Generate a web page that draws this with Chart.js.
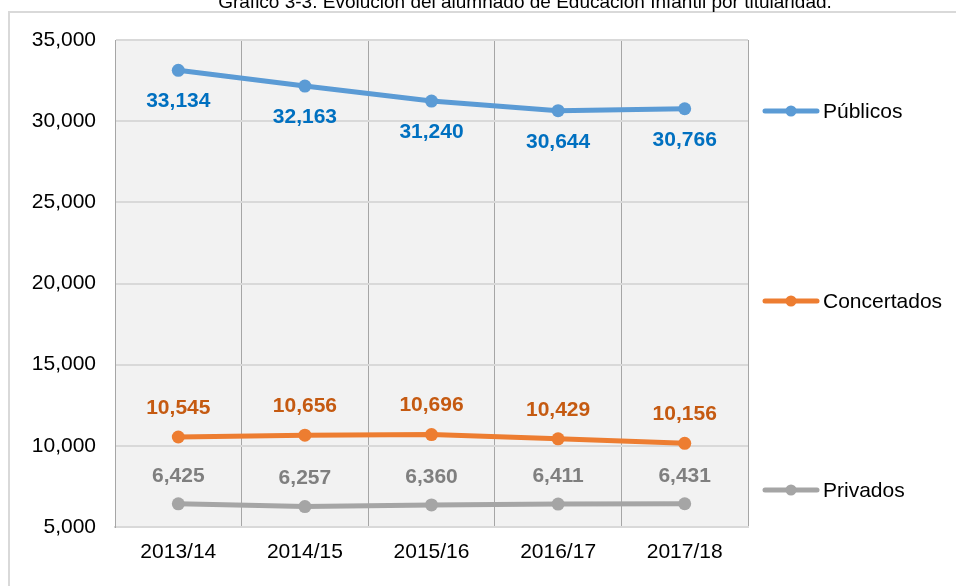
<!DOCTYPE html>
<html>
<head>
<meta charset="utf-8">
<script src="https://cdn.jsdelivr.net/npm/chart.js@4/dist/chart.umd.min.js"></script>
<style>
  html, body { margin: 0; padding: 0; background: #fff; }
  #wrap { width: 956px; height: 586px; position: relative; }
</style>
</head>
<body>
<div id="wrap"><canvas id="grafico"></canvas></div>
<script>
// Datos del gráfico
const cursos = ['2013/14', '2014/15', '2015/16', '2016/17', '2017/18'];
const publicos = [33134, 32163, 31240, 30644, 30766];
const concertados = [10545, 10656, 10696, 10429, 10156];
const privados = [6425, 6257, 6360, 6411, 6431];
const titulo = 'Gráfico 3-3. Evolución del alumnado de Educación Infantil por titularidad.';

const fuente = '"Liberation Sans", Arial, sans-serif';
const fmt = v => v.toLocaleString('en-US');

// Plugin: fondo, marco, título, etiquetas y leyenda a la derecha
const extras = {
    id: 'extras',
    beforeDraw(chart) {
        const { ctx, chartArea: a } = chart;
        ctx.save();
        ctx.fillStyle = '#f2f2f2';
        ctx.fillRect(a.left, a.top, a.right - a.left, a.bottom - a.top);
        ctx.strokeStyle = '#d9d9d9';
        ctx.lineWidth = 2;
        ctx.beginPath();
        ctx.moveTo(9, 586);
        ctx.lineTo(9, 12);
        ctx.lineTo(956, 12);
        ctx.stroke();
        ctx.fillStyle = '#000';
        ctx.font = '19px ' + fuente;
        ctx.textAlign = 'center';
        ctx.textBaseline = 'alphabetic';
        ctx.fillText(titulo, 525, 8);
        ctx.restore();
    },
    afterDatasetsDraw(chart) {
        const { ctx } = chart;
        ctx.save();
        chart.data.datasets.forEach((ds, i) => {
            const meta = chart.getDatasetMeta(i);
            ctx.font = 'bold 21px ' + fuente;
            ctx.textAlign = 'center';
            ctx.textBaseline = 'middle';
            meta.data.forEach((pt, j) => {
                ctx.fillStyle = ds.colorEtiqueta;
                ctx.fillText(fmt(ds.data[j]), pt.x, pt.y + ds.despEtiqueta);
            });
            // leyenda junto a la serie
            const y = ds.yLeyenda;
            ctx.strokeStyle = ds.borderColor;
            ctx.lineWidth = 5;
            ctx.lineCap = 'round';
            ctx.beginPath();
            ctx.moveTo(765, y);
            ctx.lineTo(817, y);
            ctx.stroke();
            ctx.fillStyle = ds.borderColor;
            ctx.beginPath();
            ctx.arc(791, y, 5.5, 0, Math.PI * 2);
            ctx.fill();
            ctx.fillStyle = '#000';
            ctx.font = '21px ' + fuente;
            ctx.textAlign = 'left';
            ctx.fillText(ds.label, 823, y + 1);
        });
        ctx.restore();
    }
};

function serie(label, data, color, colorEtiqueta, desp, yLeyenda) {
    return {
        label, data,
        borderColor: color,
        backgroundColor: color,
        borderWidth: 5,
        pointRadius: 6.5,
        pointHoverRadius: 6.5,
        pointBackgroundColor: color,
        pointBorderWidth: 0,
        tension: 0,
        colorEtiqueta, despEtiqueta: desp, yLeyenda
    };
}

new Chart(document.getElementById('grafico'), {
    type: 'line',
    data: {
        labels: cursos,
        datasets: [
            serie('Públicos', publicos, '#5b9bd5', '#0070c0', 31, 111),
            serie('Concertados', concertados, '#ed7d31', '#c55a11', -29, 301),
            serie('Privados', privados, '#a5a5a5', '#7f7f7f', -28, 490)
        ]
    },
    options: {
        responsive: true,
        maintainAspectRatio: false,
        animation: false,
        layout: { padding: { left: 0, top: 40, right: 208, bottom: 0 } },
        plugins: {
            legend: { display: false },
            tooltip: { enabled: false }
        },
        scales: {
            x: {
                offset: true,
                grid: { offset: true, color: '#a6a6a6', lineWidth: 1, drawTicks: false },
                border: { color: '#d9d9d9', width: 2 },
                ticks: { color: '#000', font: { family: fuente, size: 21 }, padding: 13 },
                afterFit: s => { s.height = 59; }
            },
            y: {
                min: 5000,
                max: 35000,
                grid: { color: '#d9d9d9', lineWidth: 2, drawTicks: false },
                border: { color: '#a6a6a6', width: 1 },
                ticks: {
                    stepSize: 5000,
                    color: '#000',
                    font: { family: fuente, size: 21 },
                    padding: 19,
                    callback: v => fmt(v)
                },
                afterFit: s => { s.width = 115; }
            }
        }
    },
    plugins: [extras]
});
</script>
</body>
</html>
